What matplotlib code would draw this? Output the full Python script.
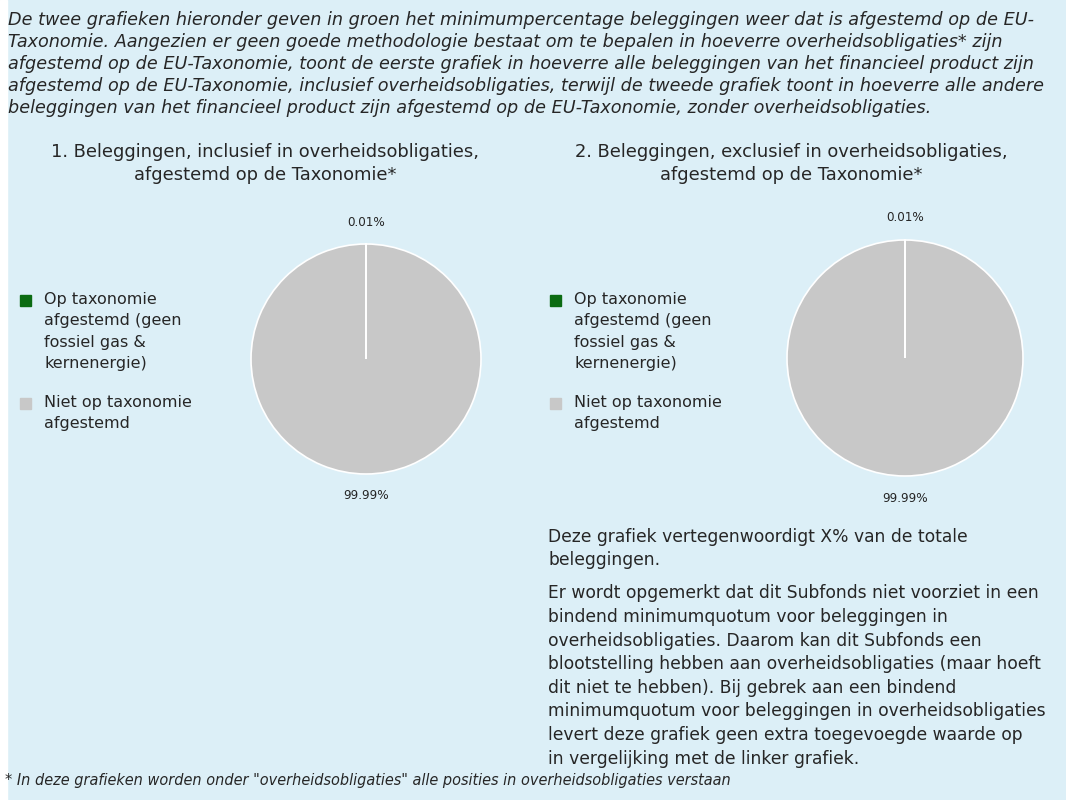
import matplotlib
matplotlib.use('Agg')
import matplotlib.pyplot as plt
from matplotlib.patches import Rectangle

plt.rcParams['font.family'] = ['DejaVu Sans']

# data
categories = ['Op taxonomie\nafgestemd (geen\nfossiel gas &\nkernenergie)',
              'Niet op taxonomie\nafgestemd']
incl_values = [0.01, 99.99]
excl_values = [0.01, 99.99]
colors = ['#0B6B12', '#C8C8C8']
titles = ['1. Beleggingen, inclusief in overheidsobligaties,\nafgestemd op de Taxonomie*',
          '2. Beleggingen, exclusief in overheidsobligaties,\nafgestemd op de Taxonomie*']

intro = ("De twee grafieken hieronder geven in groen het minimumpercentage beleggingen weer dat is afgestemd op de EU-\n"
         "Taxonomie. Aangezien er geen goede methodologie bestaat om te bepalen in hoeverre overheidsobligaties* zijn\n"
         "afgestemd op de EU-Taxonomie, toont de eerste grafiek in hoeverre alle beleggingen van het financieel product zijn\n"
         "afgestemd op de EU-Taxonomie, inclusief overheidsobligaties, terwijl de tweede grafiek toont in hoeverre alle andere\n"
         "beleggingen van het financieel product zijn afgestemd op de EU-Taxonomie, zonder overheidsobligaties.")
note1 = "Deze grafiek vertegenwoordigt X% van de totale\nbeleggingen."
note2 = ("Er wordt opgemerkt dat dit Subfonds niet voorziet in een\n"
         "bindend minimumquotum voor beleggingen in\n"
         "overheidsobligaties. Daarom kan dit Subfonds een\n"
         "blootstelling hebben aan overheidsobligaties (maar hoeft\n"
         "dit niet te hebben). Bij gebrek aan een bindend\n"
         "minimumquotum voor beleggingen in overheidsobligaties\n"
         "levert deze grafiek geen extra toegevoegde waarde op\n"
         "in vergelijking met de linker grafiek.")
footnote = '* In deze grafieken worden onder "overheidsobligaties" alle posities in overheidsobligaties verstaan'

W, H = 1066, 800
bg = '#DCEFF7'
txt = '#262626'
fig = plt.figure(figsize=(W / 100, H / 100), dpi=100, facecolor=bg)
fig.patches.append(Rectangle((0, 0), 7 / W, 1, transform=fig.transFigure, color='white', zorder=0))
renderer = fig.canvas.get_renderer()


def fx(x):
    return x / W


def fy(y):
    return 1 - y / H


def fit_size(sample, width, **kw):
    # fontsize so that the sample line is about `width` pixels wide
    t = fig.text(0, 0, sample, fontsize=10, **kw)
    w = t.get_window_extent(renderer).width
    t.remove()
    return 10 * width / w


def lines(x, y0, step, text, size, ha='left', **kw):
    # one text per line, y0 = centre of first line in pixels
    for i, line in enumerate(text.split('\n')):
        fig.text(fx(x), fy(y0 + i * step + 0.36 * size), line,
                 ha=ha, va='baseline', fontsize=size, color=txt, **kw)


s_intro = fit_size(intro.split('\n')[3], 1032, style='italic')
lines(8, 20, 22, intro, s_intro, style='italic')

s_title = fit_size(titles[0].split('\n')[0], 426)
for title, cx in zip(titles, [265, 791]):
    lines(cx, 152, 23, title, s_title, ha='center')

s_label = fit_size('99.99%', 46)


def draw_pie(values, cx, cy, r):
    size = 2.5 * r
    ax = fig.add_axes([fx(cx - size / 2), fy(cy + size / 2), size / W, size / H])
    labels = ['%.2f%%' % v for v in values]
    wedges, texts = ax.pie(values, colors=colors, startangle=90, counterclock=False,
                           labels=labels, labeldistance=1.19,
                           wedgeprops=dict(edgecolor='white', linewidth=1.2),
                           textprops=dict(fontsize=s_label, color=txt))
    for t in texts:
        t.set_ha('center')
        t.set_va('center')
    ax.set_xlim(-1.25, 1.25)
    ax.set_ylim(-1.25, 1.25)
    ax.set_aspect('equal')
    ax.axis('off')


s_leg = fit_size('Niet op taxonomie', 148)


def draw_legend(x0):
    y_rows = [300, 403]
    for cat, col, y in zip(categories, colors, y_rows):
        fig.patches.append(Rectangle((fx(x0), fy(y + 6)), 11 / W, 11 / H,
                                     transform=fig.transFigure, color=col))
        lines(x0 + 24, y, 21.3, cat, s_leg)


draw_pie(incl_values, 366, 359, 115)
draw_pie(excl_values, 905, 358, 118)
draw_legend(20)
draw_legend(550)

s_note = fit_size(note2.split('\n')[5], 498)
lines(548, 538, 23, note1, s_note)
lines(548, 594, 23.6, note2, s_note)

s_foot = fit_size(footnote, 726, style='italic')
lines(5, 781, 22, footnote, s_foot, style='italic')

fig.savefig('out.png', dpi=100, facecolor=bg)
